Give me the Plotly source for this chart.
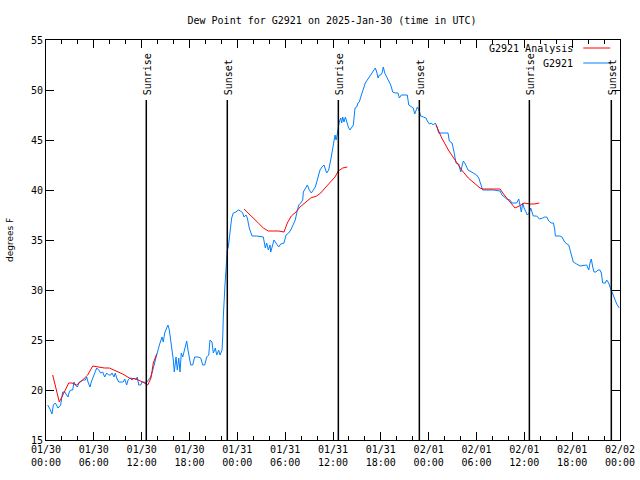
import pandas as pd
import plotly.graph_objects as go

# ---- data (hours since 2025-01-30 00:00 UTC) ----
obs_hours = [0.21,0.50,0.75,0.92,1.17,1.51,1.84,2.01,2.09,2.35,2.60,2.76,2.92,3.10,3.35,3.51,3.68,3.93,4.18,4.43,
             4.68,4.93,5.11,5.27,5.52,5.68,5.93,6.18,6.36,6.61,6.86,7.11,7.36,7.61,7.86,8.12,8.28,8.53,8.69,8.87,
             9.12,9.45,9.70,9.87,10.12,10.29,10.54,10.79,11.04,11.29,11.45,11.63,11.88,12.04,12.29,12.54,12.79,13.05,13.30,13.55,
             13.80,14.05,14.30,14.55,14.71,14.89,15.14,15.30,15.47,15.64,15.81,15.97,16.09,16.31,16.47,16.65,16.81,16.97,17.15,17.31,
             17.47,17.65,17.81,17.98,18.15,18.40,18.65,19.07,19.41,19.66,19.91,20.16,20.41,20.57,20.82,20.99,21.24,21.41,21.66,21.83,
             22.08,22.17,22.24,22.45,22.67,22.74,22.87,22.99,23.08,23.29,23.50,23.83,24.12,24.42,24.67,24.84,25.09,25.25,25.50,25.84,
             26.43,27.26,27.51,27.68,27.89,28.10,28.19,28.44,28.60,28.85,29.01,29.19,29.44,29.85,30.11,30.44,30.70,30.86,31.02,31.27,
             31.45,31.70,31.95,32.20,32.28,32.53,32.78,33.03,33.28,33.53,33.78,34.03,34.21,34.37,34.62,34.87,35.21,35.46,35.71,35.84,
             36.04,36.25,36.38,36.47,36.63,36.79,36.97,37.09,37.22,37.38,37.55,37.72,37.92,38.13,38.38,38.55,38.76,38.97,39.14,39.30,
             39.48,39.64,39.80,40.05,40.30,40.56,40.81,41.06,41.31,41.48,41.65,41.81,41.98,42.15,42.31,42.49,42.74,42.99,43.24,43.49,
             43.82,44.15,44.32,44.57,44.82,45.32,45.50,45.82,46.07,46.25,46.41,46.58,46.83,47.00,47.33,47.67,47.83,48.08,48.33,48.58,
             48.83,49.01,49.26,49.84,50.43,50.59,50.93,51.18,51.43,51.77,52.02,52.18,52.35,52.60,52.93,53.60,54.02,54.28,54.53,54.78,
             56.11,56.95,57.20,57.45,57.79,58.20,58.45,58.71,59.04,59.30,59.46,59.62,59.80,59.96,60.21,60.37,60.62,60.80,60.96,61.13,
             61.55,61.88,62.31,62.56,62.81,63.06,63.38,63.64,63.81,63.89,64.48,64.73,64.98,65.32,65.57,65.73,65.89,66.14,66.57,66.98,
             67.82,68.08,68.24,68.40,68.58,68.74,68.99,69.24,69.49,69.66,69.83,70.16,70.33,70.58,70.75,71.00,71.25,71.59,71.91]
obs_dewpt = [18.5,18.1,17.6,18.5,18.7,18.2,18.5,19.4,19.8,19.8,19.5,19.3,19.8,20.0,20.0,20.8,20.5,20.3,20.8,20.9,
             21.0,21.0,21.3,20.8,20.3,20.8,21.3,21.8,22.2,22.0,21.7,21.8,21.3,21.7,21.5,21.5,21.7,21.3,21.7,21.2,
             20.8,20.8,20.8,21.1,20.5,21.0,21.2,21.0,21.2,21.0,21.3,20.5,20.5,20.8,20.8,20.7,21.0,21.2,21.7,22.5,
             23.5,24.0,24.7,25.3,24.8,25.7,26.2,26.5,26.0,25.0,24.0,23.0,21.8,23.3,22.0,23.2,21.8,23.7,23.3,23.8,
             24.5,24.9,24.0,23.2,22.5,22.5,23.3,23.3,23.2,22.5,22.5,23.3,23.5,25.0,24.8,23.7,24.2,23.5,24.0,23.5,
             24.0,25.3,27.3,30.5,33.0,34.0,34.3,35.3,35.7,37.2,37.7,37.8,38.0,37.9,37.7,37.3,37.5,37.2,36.2,35.4,
             35.4,35.3,34.2,34.7,34.0,34.5,33.8,34.7,35.0,34.7,34.5,34.3,34.6,34.7,35.5,35.7,36.0,36.3,36.7,37.0,
             37.7,38.5,38.7,39.0,39.8,40.2,40.5,40.0,39.7,40.0,40.3,41.0,41.5,42.0,42.3,42.5,41.7,42.0,43.0,43.8,
             44.5,45.5,45.0,45.3,46.3,46.8,47.2,46.7,47.3,46.8,47.3,46.8,46.3,46.0,46.3,46.5,48.2,48.3,48.7,48.8,
             49.3,49.7,50.3,50.7,51.0,51.3,51.7,52.0,52.2,51.8,51.2,51.5,51.5,51.7,52.3,51.7,51.3,51.0,50.5,49.8,
             49.7,49.7,49.2,49.5,49.5,49.5,48.5,48.3,48.2,47.6,47.9,48.3,47.9,47.4,47.3,47.2,46.9,46.6,46.7,46.5,
             46.7,46.4,45.7,45.7,45.7,44.9,44.7,43.8,42.7,42.6,41.8,42.4,42.9,42.6,42.0,41.7,41.5,41.2,40.5,40.0,
             40.0,39.9,39.5,39.3,39.1,39.0,38.7,38.7,38.7,39.1,38.5,37.8,38.7,38.2,37.8,37.5,37.7,38.2,37.8,37.4,
             37.4,37.1,37.2,37.3,37.3,36.9,36.7,36.7,36.1,35.4,35.4,35.3,34.9,34.6,34.5,34.0,33.7,32.8,32.6,32.4,
             32.5,32.0,32.7,33.1,32.3,31.8,31.8,32.0,32.0,31.7,30.7,30.7,31.0,30.7,30.3,29.8,29.3,28.6,28.2]

ana_hours = [0.84,1.67,2.30,2.85,3.26,3.85,4.60,5.23,5.86,6.61,7.31,7.94,8.78,9.62,10.45,11.29,12.13,12.76,13.17,13.46,13.89,
             None,
             24.84,25.38,26.00,26.63,27.26,27.89,28.51,29.14,29.85,30.27,30.77,31.36,31.86,32.61,33.20,33.96,34.46,35.00,35.62,36.25,
             36.67,37.22,37.79,
             None,
             48.92,49.64,50.47,51.30,52.14,52.97,53.81,54.44,54.78,56.95,57.58,58.20,58.83,59.37,59.96,60.71,61.21,61.88]
ana_dewpt = [21.5,18.8,19.8,20.7,20.7,20.5,21.0,21.5,22.4,22.3,22.2,22.2,21.9,21.6,21.2,21.1,20.8,20.5,21.2,22.7,23.6,
             None,
             38.1,37.7,37.2,36.7,36.2,35.9,35.9,35.9,35.8,36.7,37.4,37.8,38.3,38.8,39.2,39.4,39.7,40.2,40.7,41.3,
             41.9,42.2,42.3,
             None,
             46.5,45.2,44.0,43.0,42.0,41.2,40.6,40.2,40.1,40.1,39.4,38.8,38.2,38.4,38.7,38.6,38.6,38.7]

sun_hours = [12.58, 22.74, 36.67, 46.83, 60.63, 70.91]
sun_labels = ["Sunrise", "Sunset", "Sunrise", "Sunset", "Sunrise", "Sunset"]
sun_line_top = 49

tick_hours = list(range(0, 73, 6))
tick_labels = ["01/30<br>00:00", "01/30<br>06:00", "01/30<br>12:00", "01/30<br>18:00",
               "01/31<br>00:00", "01/31<br>06:00", "01/31<br>12:00", "01/31<br>18:00",
               "02/01<br>00:00", "02/01<br>06:00", "02/01<br>12:00", "02/01<br>18:00",
               "02/02<br>00:00"]

base = pd.Timestamp("2025-01-30 00:00")
def to_time(h):
    return None if h is None else base + pd.Timedelta(hours=h)

MONO = "DejaVu Sans Mono"
W, H = 640, 480

fig = go.Figure()
fig.add_trace(go.Scatter(x=[to_time(h) for h in obs_hours], y=obs_dewpt, mode="lines",
                         line=dict(color="#0080ff", width=1), name="G2921"))
fig.add_trace(go.Scatter(x=[to_time(h) for h in ana_hours], y=ana_dewpt, mode="lines",
                         line=dict(color="#ff0000", width=1), name="G2921 Analysis",
                         connectgaps=False))

shapes = []
annotations = []
for h, lab in zip(sun_hours, sun_labels):
    t = to_time(h)
    shapes.append(dict(type="line", xref="x", yref="y", x0=t, x1=t, y0=15, y1=sun_line_top,
                       line=dict(color="black", width=1.5)))
    annotations.append(dict(x=t, y=sun_line_top, xref="x", yref="y", text=lab, textangle=-90,
                            showarrow=False, xanchor="center", yanchor="bottom", yshift=3, xshift=1,
                            font=dict(family=MONO, size=10, color="black")))

# legend (gnuplot style: text then sample line)
leg = [("G2921 Analysis", "#ff0000", 0.98), ("G2921", "#0080ff", 0.9425)]
for txt, col, yp in leg:
    annotations.append(dict(x=0.9216, y=yp, xref="paper", yref="paper", text=txt, showarrow=False,
                            xanchor="right", yanchor="middle", font=dict(family=MONO, size=10, color="black")))
    shapes.append(dict(type="line", xref="paper", yref="paper", x0=0.936, x1=0.983, y0=yp, y1=yp,
                       line=dict(color=col, width=1)))

annotations.append(dict(x=-36 / 574, y=0.5, xref="paper", yref="paper", text="degrees F", textangle=-90,
                        showarrow=False, xanchor="center", yanchor="middle",
                        font=dict(family="DejaVu Sans", size=9, color="black")))

fig.update_layout(
    width=W, height=H,
    margin=dict(l=46, r=20, t=40, b=40, autoexpand=False),
    paper_bgcolor="white", plot_bgcolor="white",
    showlegend=False,
    title=dict(text="Dew Point for G2921 on 2025-Jan-30 (time in UTC)", x=332 / W, xanchor="center",
               y=1 - 20 / H, yanchor="middle", font=dict(family=MONO, size=10, color="black")),
    shapes=shapes,
    annotations=annotations,
    font=dict(family=MONO, size=10, color="black"),
)
fig.update_xaxes(
    type="date", automargin=False,
    range=[to_time(0), to_time(72)],
    tickvals=[to_time(h) for h in tick_hours], ticktext=tick_labels,
    ticks="inside", ticklen=8, tickcolor="black", tickwidth=1,
    showline=True, linecolor="black", linewidth=1, mirror="ticks",
    showgrid=False, zeroline=False,
    minor=dict(dtick=2 * 3600 * 1000, ticks="inside", ticklen=4, tickcolor="black", showgrid=False),
    tickfont=dict(family=MONO, size=10, color="black"),
)
fig.update_yaxes(
    automargin=False,
    range=[15, 55], dtick=5, tick0=15,
    ticks="inside", ticklen=8, tickcolor="black", tickwidth=1,
    showline=True, linecolor="black", linewidth=1, mirror="ticks",
    showgrid=False, zeroline=False,
    tickfont=dict(family=MONO, size=10, color="black"),
)

fig.write_html("out.html", config={"displayModeBar": False},
               post_script="document.body.style.margin='0';")
